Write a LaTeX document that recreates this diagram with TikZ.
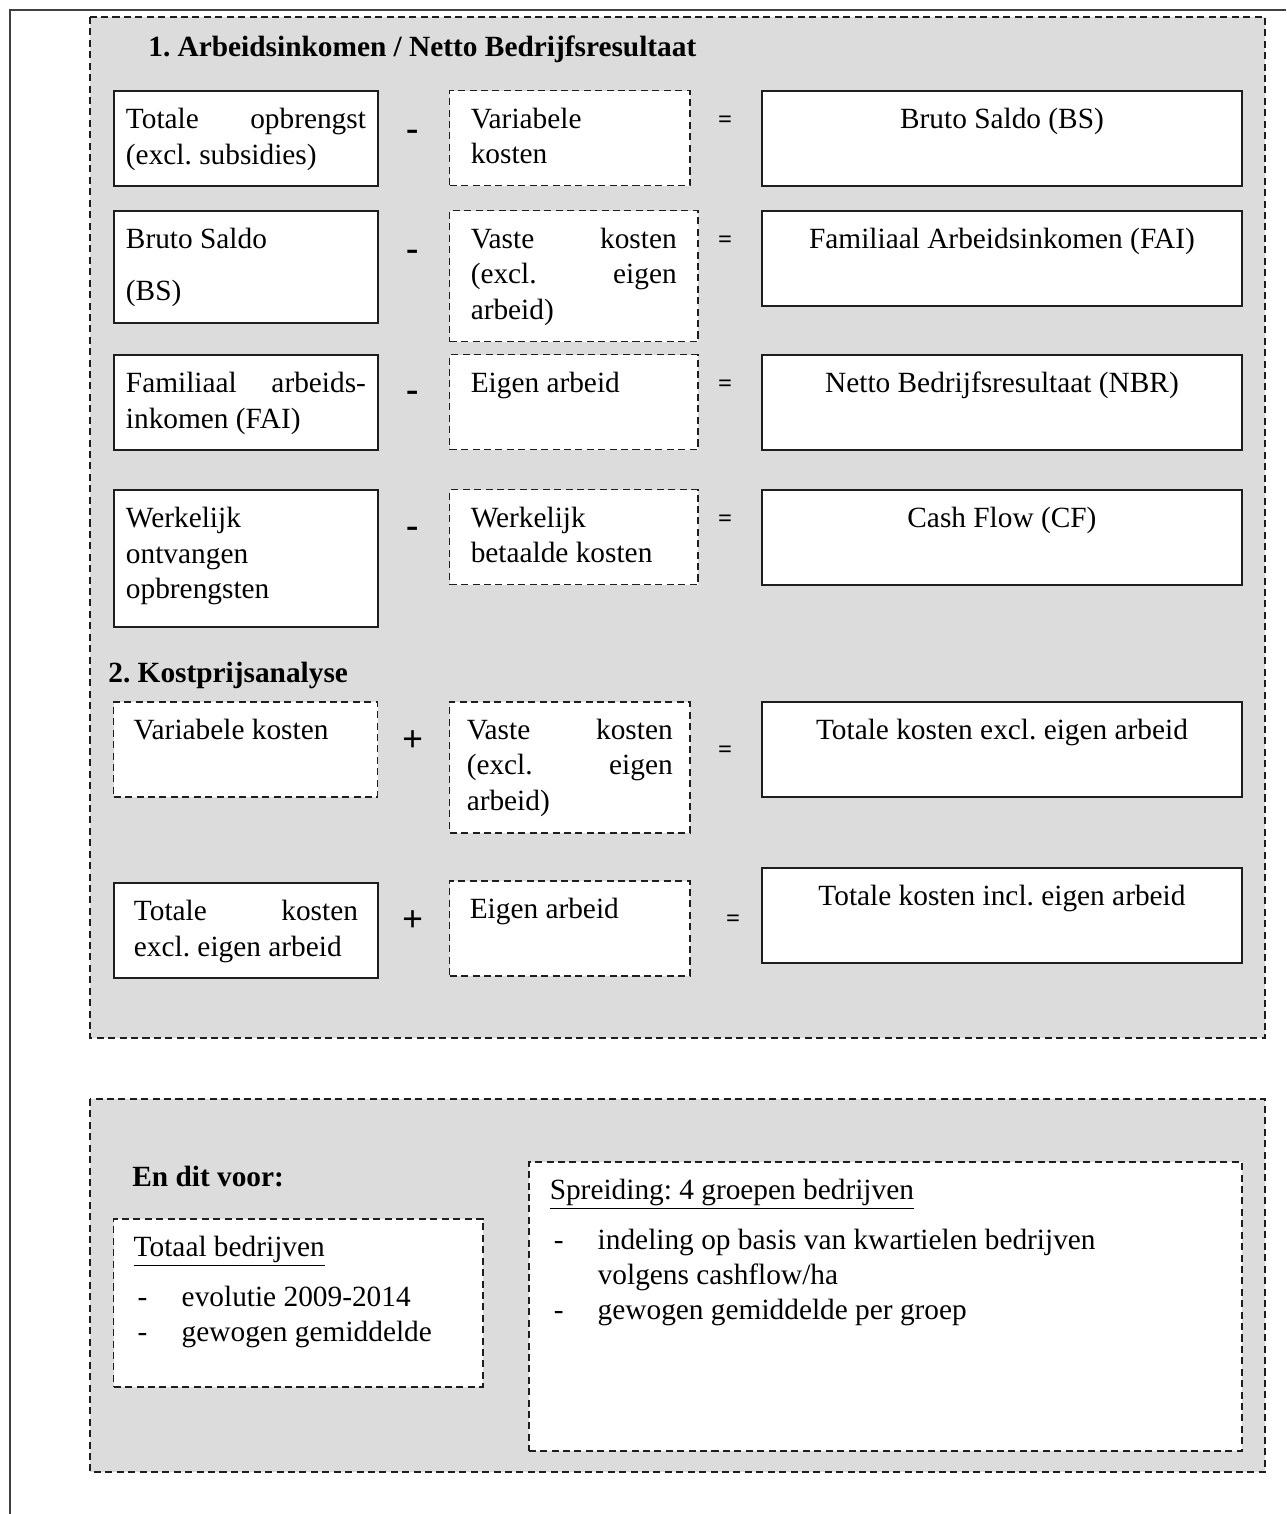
\documentclass[tikz,border=0pt]{standalone}
\usepackage{fontspec}
\setmainfont{Liberation Serif}
\usetikzlibrary{positioning}
\definecolor{panelgray}{HTML}{DCDCDC}
\definecolor{inkgray}{HTML}{1E1E1E}
\frenchspacing
\newlength{\pxl}\setlength{\pxl}{0.02cm}
\newcommand{\bodyfont}{\fontsize{16.7pt}{20.1pt}\selectfont}
% box text: width, height, side padding, text
\newcommand{\cell}[4]{\parbox[t][#2\pxl][t]{#1\pxl}{\leftskip=#3\pxl\rightskip=#3\pxl\vspace*{13\pxl}\strut#4\par}}
\newcommand{\dashitem}[1]{\par\noindent\hangindent=48\pxl\hangafter=1\makebox[48\pxl][l]{\hspace{4\pxl}-}#1\par}
\tikzset{
  panel/.style={draw=inkgray, fill=panelgray, line width=0.8pt, dash pattern=on 4pt off 2.5pt},
  solidbox/.style={draw=inkgray, fill=white, line width=1.1pt, inner sep=0pt, anchor=north west, font=\bodyfont},
  dashbox/.style={solidbox, line width=0.85pt, dash pattern=on 4pt off 2.5pt},
  op/.style={font=\fontsize{21pt}{24pt}\selectfont\bfseries, inner sep=1pt},
  minusop/.style={op, yshift=-5\pxl},
  eqsign/.style={font=\fontsize{14pt}{16pt}\selectfont\bfseries, inner sep=1pt, yshift=-3\pxl},
  headtxt/.style={font=\bodyfont\bfseries, anchor=base west, inner sep=0pt},
  frame/.style={draw=inkgray!85, line width=1.1pt}
}
\begin{document}
\begin{tikzpicture}[x=0.02cm, y=-0.02cm]
  \useasboundingbox (0,0) rectangle (1286,1514);
  \draw[frame] (10,1514) -- (10,10) -- (1286,10);

  % panels
  \draw[panel] (90,17) rectangle (1265,1038);
  \draw[panel] (90,1099) rectangle (1265,1472);

  % 1. Arbeidsinkomen / NBR
  \node[headtxt] (h1) at (148,57) {1. Arbeidsinkomen / Netto Bedrijfsresultaat};

  \node[solidbox] (to) at (113,90) {\cell{264}{95}{12}{Totale opbrengst\linebreak (excl. subsidies)}};
  \node[minusop] (m1) at (413,130) {-};
  \node[dashbox] (vk) at (449,90) {\cell{240}{95}{21}{Variabele\\ kosten}};
  \node[eqsign] (e1) at (725,119) {=};
  \node[solidbox] (bs) at (761,90) {\cell{480}{95}{12}{\centering Bruto Saldo (BS)}};

  \node[solidbox] (bs2) at (113,210) {\cell{264}{112}{12}{Bruto Saldo\\[16.5\pxl] (BS)}};
  \node[minusop] (m2) at (413,250) {-};
  \node[dashbox] (vak) at (449,210) {\cell{248}{131}{21}{Vaste kosten\linebreak (excl. eigen\linebreak arbeid)}};
  \node[eqsign] (e2) at (725,239) {=};
  \node[solidbox] (fai) at (761,210) {\cell{480}{95}{12}{\centering Familiaal Arbeidsinkomen (FAI)}};

  \node[solidbox] (fai2) at (113,354) {\cell{264}{95}{12}{Familiaal arbeids-\linebreak inkomen (FAI)}};
  \node[minusop] (m3) at (413,391) {-};
  \node[dashbox] (ea) at (449,354) {\cell{248}{95}{21}{Eigen arbeid}};
  \node[eqsign] (e3) at (725,383) {=};
  \node[solidbox] (nbr) at (761,354) {\cell{480}{95}{12}{\centering Netto Bedrijfsresultaat (NBR)}};

  \node[solidbox] (wo) at (113,489) {\cell{264}{137}{12}{Werkelijk\\ ontvangen\\ opbrengsten}};
  \node[minusop] (m4) at (413,527) {-};
  \node[dashbox] (wb) at (449,489) {\cell{248}{95}{21}{Werkelijk\\ betaalde kosten}};
  \node[eqsign] (e4) at (725,518) {=};
  \node[solidbox] (cf) at (761,489) {\cell{480}{95}{12}{\centering Cash Flow (CF)}};

  % 2. Kostprijsanalyse
  \node[headtxt] (h2) at (108,682) {2. Kostprijsanalyse};

  \node[dashbox] (vk2) at (113,701) {\cell{264}{95}{20}{Variabele kosten}};
  \node[op] (p1) at (413,741) {+};
  \node[dashbox] (vak2) at (449,701) {\cell{240}{131}{17}{Vaste kosten\linebreak (excl. eigen\linebreak arbeid)}};
  \node[eqsign] (e5) at (725,749) {=};
  \node[solidbox] (tke) at (761,701) {\cell{480}{95}{12}{\centering Totale kosten excl. eigen arbeid}};

  \node[solidbox] (tke2) at (113,882) {\cell{264}{95}{20}{Totale kosten\linebreak excl. eigen arbeid}};
  \node[op] (p2) at (413,921) {+};
  \node[dashbox] (ea2) at (449,880) {\cell{240}{95}{20}{Eigen arbeid}};
  \node[eqsign] (e6) at (733,918) {=};
  \node[solidbox] (tki) at (761,867) {\cell{480}{95}{12}{\centering Totale kosten incl. eigen arbeid}};

  % En dit voor
  \node[headtxt] (h3) at (132,1186) {En dit voor:};
  \node[dashbox] (tb) at (113,1218) {\cell{369}{168}{20}{\underline{Totaal bedrijven}\par\vspace{14.5\pxl}
    \dashitem{evolutie 2009-2014}
    \dashitem{gewogen gemiddelde}}};
  \node[dashbox] (sp) at (528,1161) {\cell{713}{289}{21}{\underline{Spreiding: 4 groepen bedrijven}\par\vspace{14.5\pxl}
    \dashitem{indeling op basis van kwartielen bedrijven\\ volgens cashflow/ha}
    \dashitem{gewogen gemiddelde per groep}}};
\end{tikzpicture}
\end{document}
